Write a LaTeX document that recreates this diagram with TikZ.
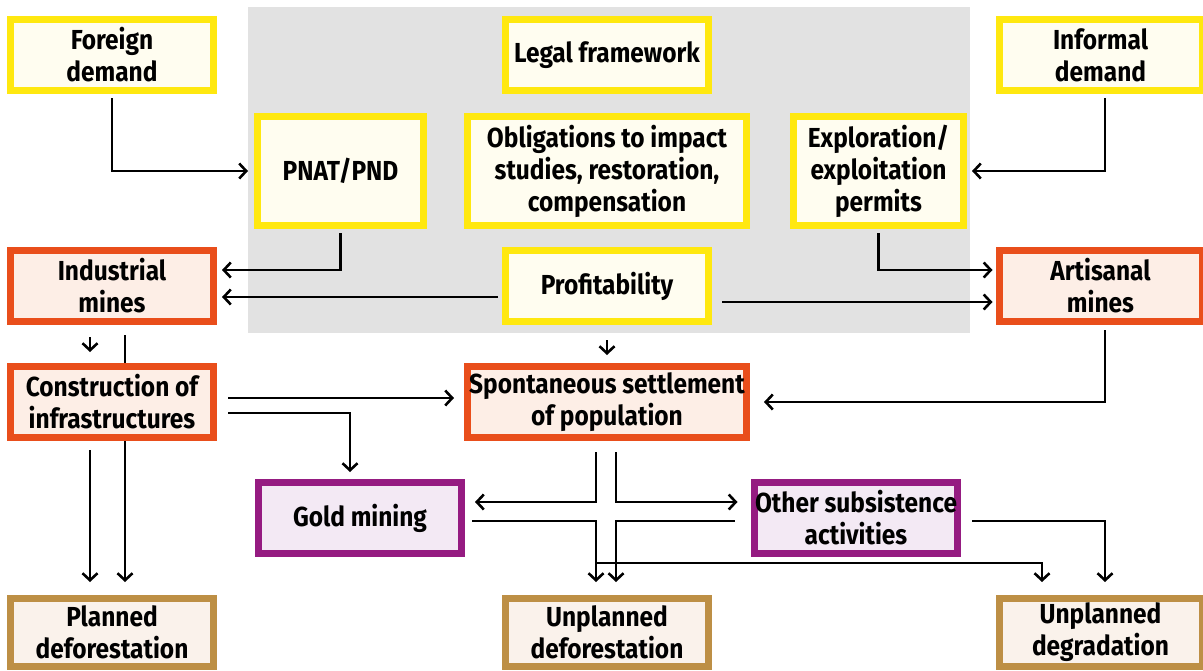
\documentclass[tikz,border=0pt]{standalone}
\usepackage{fontspec}
\setmainfont{Fira Sans}[FakeStretch=0.89]
\usetikzlibrary{arrows.meta,backgrounds}

\definecolor{ylwline}{HTML}{FFE80F}
\definecolor{ylwfill}{HTML}{FFFDF0}
\definecolor{orgline}{HTML}{E94E1B}
\definecolor{orgfill}{HTML}{FDEEE6}
\definecolor{purline}{HTML}{951B81}
\definecolor{purfill}{HTML}{F3E9F4}
\definecolor{brnline}{HTML}{BD8F45}
\definecolor{brnfill}{HTML}{FAF2EB}
\definecolor{zonegray}{HTML}{E2E2E2}

\begin{document}
\begin{tikzpicture}[x=1pt,y=-1pt,
  box/.style={line width=7pt, minimum width=203pt, minimum height=71pt, inner sep=1pt,
    align=center, font=\bfseries\fontsize{27.5}{32}\selectfont},
  driver/.style={box, draw=ylwline, fill=ylwfill},
  mine/.style={box, draw=orgline, fill=orgfill},
  activity/.style={box, draw=purline, fill=purfill},
  result/.style={box, draw=brnline, fill=brnfill, minimum height=68pt},
  arr/.style={line width=2.6pt, -{Straight Barb[length=7pt,width=15pt]},
    shorten <=4pt, shorten >=5pt}]
\useasboundingbox (0,0) rectangle (1203,670);

\node[driver] (foreign)  at (112,55)    {Foreign\\demand};
\node[driver] (legal)    at (607,55)    {Legal framework};
\node[driver] (informal) at (1100.5,55) {Informal\\demand};

\node[driver, minimum width=166pt, minimum height=109pt] (pnat)   at (340.5,171) {PNAT/PND};
\node[driver, minimum width=279pt, minimum height=109pt] (oblig)  at (607,171)   {Obligations to impact\\studies, restoration,\\compensation};
\node[driver, minimum width=170pt, minimum height=109pt] (explor) at (878.5,171) {Exploration/\\exploitation\\permits};

\node[mine]   (indus)  at (112,286)    {Industrial\\mines};
\node[driver] (profit) at (607,286)    {Profitability};
\node[mine]   (artis)  at (1100.5,286) {Artisanal\\mines};

\node[mine] (constr) at (112,402) {Construction of\\infrastructures};
\node[mine, minimum width=279pt] (settle) at (607,402) {Spontaneous settlement\\of population};

\node[activity] (gold)  at (360,518) {Gold mining};
\node[activity] (other) at (856,518) {Other subsistence\\activities};

\node[result] (planned)  at (112,632.5)    {Planned\\deforestation};
\node[result] (unpldefo) at (607,632.5)    {Unplanned\\deforestation};
\node[result] (unpldeg)  at (1100.5,632.5) {Unplanned\\degradation};

\begin{scope}[on background layer]
\fill[zonegray] (248,7) rectangle (970,333);
\draw[arr, shorten <=10pt, shorten >=13pt] ([xshift=13pt]indus.south) -- ([xshift=13pt]planned.north);
\end{scope}

\draw[arr, shorten >=6pt] (foreign) |- (pnat);
\draw[arr] ([xshift=4.5pt]informal.south) |- (explor.east);
\draw[arr] (pnat.south) |- ([yshift=16pt]indus.east);
\draw[arr] ([yshift=-11pt]profit.west) -- ([yshift=-11pt]indus.east);
\draw[arr, shorten <=10pt, shorten >=3pt] ([yshift=-16pt]profit.east) -- ([yshift=-16pt]artis.west);
\draw[arr, shorten >=3pt] (explor.south) |- ([yshift=16pt]artis.west);

\draw[arr, shorten <=12pt, shorten >=11pt] ([xshift=-22pt]indus.south) -- ([xshift=-22pt]constr.north);
\draw[arr, shorten <=9pt, shorten >=13pt] ([xshift=-22pt]constr.south) -- ([xshift=-22pt]planned.north);
\draw[arr, shorten <=15pt, shorten >=8pt] (profit.south) -- (settle.north);
\draw[arr, shorten <=11pt, shorten >=10pt] ([yshift=4pt]constr.east) -- ([yshift=4pt]settle.west);
\draw[arr, shorten <=11pt, shorten >=7pt] ([yshift=-11pt]constr.east) -| ([xshift=-10pt]gold.north);
\draw[arr, shorten <=5pt, shorten >=14pt] ([xshift=4.5pt]artis.south) |- (settle.east);

\draw[arr, shorten <=11pt, shorten >=10pt] ([xshift=-11pt]settle.south) |- ([yshift=16pt]gold.east);
\draw[arr, shorten <=11pt, shorten >=13pt] ([xshift=9pt]settle.south) |- ([yshift=16pt]other.west);
\draw[arr, shorten <=7pt, shorten >=13pt] ([yshift=-3pt]gold.east) -| ([xshift=-11pt]unpldefo.north);
\draw[arr, shorten <=16pt, shorten >=13pt] ([yshift=-3pt]other.west) -| ([xshift=9pt]unpldefo.north);
\coordinate (split) at (596,563);
\draw[arr, shorten <=0pt, shorten >=13pt] (split) -| ([xshift=-58.5pt]unpldeg.north);
\draw[arr, shorten <=11pt, shorten >=13pt] ([yshift=-3pt]other.east) -| ([xshift=4.5pt]unpldeg.north);
\end{tikzpicture}
\end{document}
